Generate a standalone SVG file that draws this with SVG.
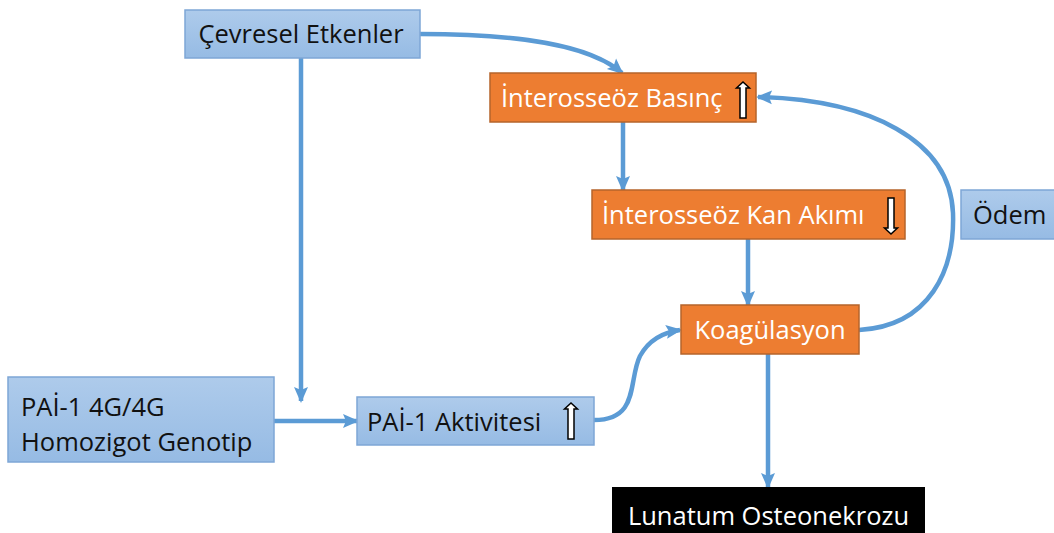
<svg xmlns="http://www.w3.org/2000/svg" width="1054" height="533" viewBox="0 0 1054 533">
<defs>
<linearGradient id="gb" x1="0" y1="0" x2="0" y2="1">
<stop offset="0" stop-color="#aecbeb"/>
<stop offset="1" stop-color="#96bbe4"/>
</linearGradient>
<marker id="ah" markerUnits="userSpaceOnUse" markerWidth="16" markerHeight="16" viewBox="0 0 16 16" refX="14" refY="8" orient="auto">
<path d="M0,1 L16,8 L0,15 L3,8 Z" fill="#5b9bd5"/>
</marker>
<path id="blk" d="M-3,-13 L-6.5,-13 L0,-19 L6.5,-13 L3,-13 L3,17 L-3,17 Z"/>
</defs>
<style>
.blue{fill:url(#gb);stroke:#7ea6d6;stroke-width:1.5}
.orange{fill:#ed7d31;stroke:#b5642b;stroke-width:1.5}
.black{fill:#000}
.t{font-family:"Open Sans","Liberation Sans",sans-serif;font-size:25.5px}
.dk{fill:#111}
.wt{fill:#fff}
.c{fill:none;stroke:#5b9bd5;stroke-width:4.5;marker-end:url(#ah)}
.ba{fill:#fff;stroke:#000;stroke-width:1.5}
</style>
<rect width="1054" height="533" fill="#fff"/>
<g id="connectors">
<path class="c" d="M420,34 C520,34 590,45 622,73"/>
<path class="c" d="M301,58 L301,401"/>
<path class="c" d="M274,421 L357,421"/>
<path class="c" d="M594,420 C640,420 628,380 640,356 C650,338 665,332 680,330"/>
<path class="c" d="M623,122 L623,190"/>
<path class="c" d="M748,239 L748,305"/>
<path class="c" d="M859,330 C930,326 955,270 953,213 C950,140 870,100 758,97"/>
<path class="c" d="M768,354 L768,487"/>
</g>
<g id="n-cevresel">
<rect class="blue" x="185" y="10" width="235" height="48"/>
<text class="t dk" x="301" y="43" text-anchor="middle">Çevresel Etkenler</text>
</g>
<g id="n-basinc">
<rect class="orange" x="490" y="73" width="266" height="49"/>
<text class="t wt" x="501" y="107">İnterosseöz Basınç</text>
<use href="#blk" class="ba" transform="translate(743,101)"/>
</g>
<g id="n-kan">
<rect class="orange" x="592" y="190" width="313" height="49"/>
<text class="t wt" x="602" y="224">İnterosseöz Kan Akımı</text>
<use href="#blk" class="ba" transform="translate(891,215) rotate(180)"/>
</g>
<g id="n-odem">
<rect class="blue" x="961" y="190" width="100" height="49"/>
<text class="t dk" x="973" y="224">Ödem</text>
</g>
<g id="n-koag">
<rect class="orange" x="681" y="305" width="178" height="49"/>
<text class="t wt" x="770" y="339" text-anchor="middle">Koagülasyon</text>
</g>
<g id="n-genotip">
<rect class="blue" x="8" y="377" width="266" height="85"/>
<text class="t dk" x="21" y="416">PAİ-1 4G/4G</text>
<text class="t dk" x="21" y="451">Homozigot Genotip</text>
</g>
<g id="n-aktivite">
<rect class="blue" x="357" y="397" width="237" height="48"/>
<text class="t dk" x="367" y="431">PAİ-1 Aktivitesi</text>
<use href="#blk" class="ba" transform="translate(571,422)"/>
</g>
<g id="n-lunatum">
<rect class="black" x="612" y="487" width="313" height="50"/>
<text class="t wt" x="768.5" y="525" text-anchor="middle">Lunatum Osteonekrozu</text>
</g>
</svg>
